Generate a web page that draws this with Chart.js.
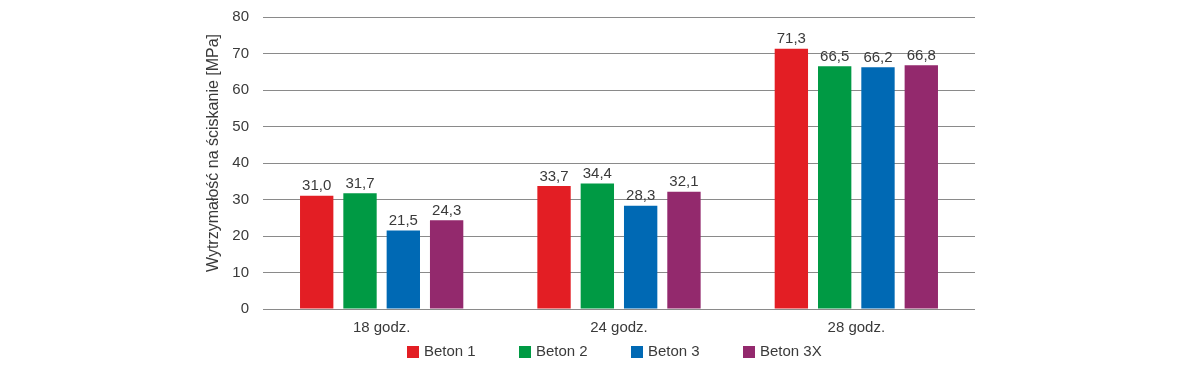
<!DOCTYPE html>
<html><head><meta charset="utf-8">
<script src="https://cdn.jsdelivr.net/npm/chart.js@4"></script>
<style>html,body{margin:0;padding:0;background:#fff}#wrap{width:1182px;height:368px}</style>
</head><body><div id="wrap"><canvas id="c" width="1182" height="368"></canvas></div>
<script>
const categories = ['18 godz.', '24 godz.', '28 godz.'];
const seriesNames = ['Beton 1', 'Beton 2', 'Beton 3', 'Beton 3X'];
const beton1 = [31.0, 33.7, 71.3];
const beton2 = [31.7, 34.4, 66.5];
const beton3 = [21.5, 28.3, 66.2];
const beton3x = [24.3, 32.1, 66.8];
const yTicks = [0, 10, 20, 30, 40, 50, 60, 70, 80];
const yTitle = 'Wytrzymałość na ściskanie [MPa]';
const colors = ['#E31E24', '#009A44', '#0069B4', '#93296D'];
const FONT = "'Liberation Sans', Arial, sans-serif";
const TXT = '#3a3a3a';

const labelPlugin = {
  id: 'valueLabels',
  afterDatasetsDraw(chart) {
    const ctx = chart.ctx;
    ctx.save();
    ctx.font = '15px ' + FONT;
    ctx.fillStyle = TXT;
    ctx.textAlign = 'center';
    ctx.textBaseline = 'bottom';
    chart.data.datasets.forEach((ds, i) => {
      chart.getDatasetMeta(i).data.forEach((bar, j) => {
        ctx.fillText(ds.data[j].toFixed(1).replace('.', ','), bar.x, bar.y - 2);
      });
    });
    ctx.restore();
  }
};

const legendPlugin = {
  id: 'bottomLegend',
  afterDraw(chart) {
    const ctx = chart.ctx;
    const ca = chart.chartArea;
    const startX = (ca.left + ca.right) / 2 - 212;
    const step = 112;
    const y = 352;
    ctx.save();
    ctx.font = '15px ' + FONT;
    ctx.textBaseline = 'middle';
    ctx.textAlign = 'left';
    chart.data.datasets.forEach((ds, i) => {
      const x = startX + i * step;
      ctx.fillStyle = ds.backgroundColor;
      ctx.fillRect(x, y - 6, 12, 12);
      ctx.fillStyle = TXT;
      ctx.fillText(ds.label, x + 17, y);
    });
    ctx.restore();
  }
};

const yTitlePlugin = {
  id: 'yTitle',
  afterDraw(chart) {
    const ctx = chart.ctx;
    const ca = chart.chartArea;
    ctx.save();
    ctx.translate(ca.left - 49, (ca.top + ca.bottom) / 2 - 10);
    ctx.rotate(-Math.PI / 2);
    ctx.font = '16px ' + FONT;
    ctx.fillStyle = TXT;
    ctx.textAlign = 'center';
    ctx.textBaseline = 'middle';
    ctx.fillText(yTitle, 0, 0);
    ctx.restore();
  }
};

new Chart(document.getElementById('c'), {
  type: 'bar',
  data: {
    labels: categories,
    datasets: [beton1, beton2, beton3, beton3x].map((d, i) => ({
      label: seriesNames[i], data: d, backgroundColor: colors[i],
      barPercentage: 0.77, categoryPercentage: 0.73
    }))
  },
  options: {
    responsive: false, animation: false,
    layout: { padding: { left: 205, right: 207, top: 17, bottom: 29 } },
    plugins: {
      legend: { display: false },
      tooltip: { enabled: false }
    },
    scales: {
      x: {
        grid: { display: false },
        border: { display: false },
        afterFit(s) { s.paddingLeft = 0; s.paddingRight = 0; },
        ticks: { color: TXT, font: { family: FONT, size: 15 }, padding: 2 }
      },
      y: {
        min: 0, max: 80,
        afterFit(s) { s.width = 58; s.paddingTop = 0; s.paddingBottom = 0; },
        afterBuildTicks(s) { s.ticks = yTicks.map(v => ({ value: v })); },
        grid: { color: '#8a8a8a', lineWidth: 1, drawTicks: false },
        border: { display: false },
        ticks: { color: TXT, font: { family: FONT, size: 15 }, padding: 14 }
      }
    }
  },
  plugins: [labelPlugin, legendPlugin, yTitlePlugin]
});
</script></body></html>
